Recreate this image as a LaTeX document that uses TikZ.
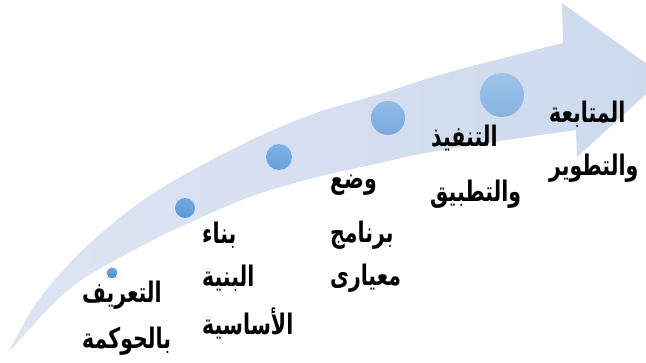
\documentclass[tikz,border=0pt]{standalone}
\usepackage{graphicx}
\usepackage{fontspec}
\newfontfamily\arabicfont[Script=Arabic]{DejaVu Sans}
\TeXXeTstate=1
\definecolor{bandL}{HTML}{DDE5F3}
\definecolor{bandR}{HTML}{CDD9EE}
\definecolor{cAt}{HTML}{6AA3DC}\definecolor{cAb}{HTML}{5692D2}
\definecolor{cBt}{HTML}{72AAE0}\definecolor{cBb}{HTML}{5C98D6}
\definecolor{cCt}{HTML}{80B2E4}\definecolor{cCb}{HTML}{68A0DA}
\definecolor{cDt}{HTML}{92BDE8}\definecolor{cDb}{HTML}{78AADD}
\definecolor{cEt}{HTML}{A0C4EA}\definecolor{cEb}{HTML}{88B2E0}
\newcommand{\artx}[1]{\scalebox{1}[1.38]{\beginR #1\endR}}
\tikzset{
  dot/.style={circle, inner sep=0pt, draw=none},
  lbl/.style={anchor=west, inner sep=0pt, text=black, font=\arabicfont\bfseries\fontsize{20.5}{24}\selectfont}
}
\begin{document}
\begin{tikzpicture}[x=1pt,y=-1pt]
\useasboundingbox (0,0) rectangle (646,363);
\begin{scope}
\clip (0,0) rectangle (646,363);
\shade[left color=bandL, right color=bandR]
  plot[smooth, tension=0.55] coordinates {(8,353) (35,305) (67,266) (100,234) (135,206) (175,180) (247,142) (313,114) (380,94) (450,72) (563,43)}
  -- (562,3) -- (665,77) -- (577,157) -- (576,130)
  -- plot[smooth, tension=0.55] coordinates {(576,130) (500,141) (420,154) (380,163) (313,178) (247,198) (180,227) (157,238) (110,263) (80,281) (50,307) (8,353)}
  -- cycle;
\end{scope}
% circles
\node[dot, minimum size=11pt, top color=cAt, bottom color=cAb] (c1) at (112,273) {};
\node[dot, minimum size=20pt, top color=cBt, bottom color=cBb] (c2) at (185,208) {};
\node[dot, minimum size=26pt, top color=cCt, bottom color=cCb] (c3) at (279,157) {};
\node[dot, minimum size=34pt, top color=cDt, bottom color=cDb] (c4) at (388,118) {};
\node[dot, minimum size=44pt, top color=cEt, bottom color=cEb] (c5) at (502,95) {};
% labels
\node[lbl] (t1a) at (82,295) {\artx{التعريف}};
\node[lbl] (t1b) at (82,341) {\artx{بالحوكمة}};
\node[lbl] (t2a) at (202,235) {\artx{بناء}};
\node[lbl] (t2b) at (202,278) {\artx{البنية}};
\node[lbl] (t2c) at (202,323) {\artx{الأساسية}};
\node[lbl] (t3a) at (330,185) {\artx{وضع}};
\node[lbl] (t3b) at (330,235) {\artx{برنامج}};
\node[lbl] (t3c) at (330,278) {\artx{معيارى}};
\node[lbl] (t4a) at (431,138) {\artx{التنفيذ}};
\node[lbl] (t4b) at (430,194) {\artx{والتطبيق}};
\node[lbl] (t5a) at (549,114) {\artx{المتابعة}};
\node[lbl] (t5b) at (549,168) {\artx{والتطوير}};
\end{tikzpicture}
\end{document}
